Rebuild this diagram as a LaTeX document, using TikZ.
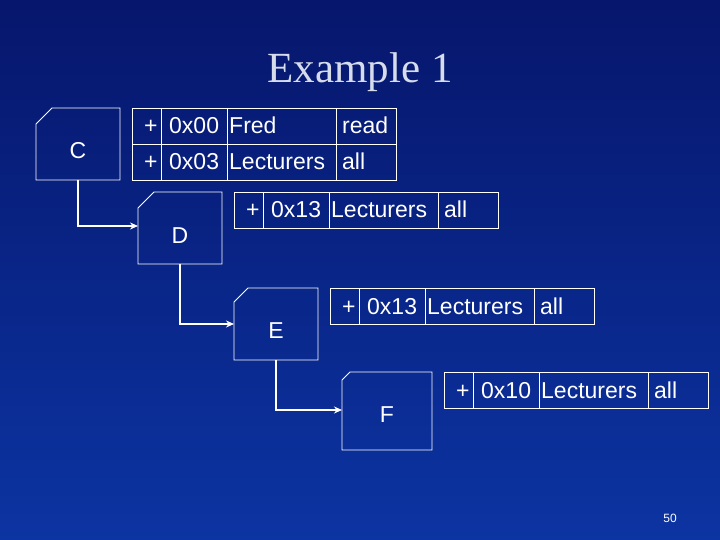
\documentclass[tikz,border=0pt]{standalone}
\usepackage{fontspec}
\setsansfont{Liberation Sans}
\setmainfont{Liberation Serif}
\usetikzlibrary{arrows.meta}
\definecolor{bgtop}{RGB}{6,22,108}
\definecolor{bgbot}{RGB}{12,52,162}
\definecolor{titlec}{RGB}{215,220,235}
\tikzset{
  ln/.style={draw=white,line width=0.9pt},
  cell/.style={anchor=base west,text=white,font=\sffamily\fontsize{23}{23}\selectfont,inner sep=0pt},
  lbl/.style={text=white,font=\sffamily\fontsize{23}{23}\selectfont},
  conn/.style={draw=white,line width=1.6pt,-{Stealth[length=8pt,width=7pt]}}
}
\begin{document}
\begin{tikzpicture}[x=1pt,y=-1pt]
\shade[top color=bgtop,bottom color=bgbot] (0,0) rectangle (720,540);
\useasboundingbox (0,0) rectangle (720,540);
\node[text=titlec,font=\rmfamily\fontsize{43}{43}\selectfont] (title) at (360,72) {Example 1};
% boxes
\draw[ln] (36,124) -- (52,108) -- (120,108) -- (120,180) -- (36,180) -- cycle;
\node[lbl] (C) at (78,151) {C};
\coordinate (Cb) at (78,180);
\draw[ln] (138,208) -- (154,192) -- (222,192) -- (222,264) -- (138,264) -- cycle;
\node[lbl] (D) at (180,236) {D};
\coordinate (Db) at (180,264); \coordinate (Dl) at (138,226);
\draw[ln] (234,302) -- (248,288) -- (318,288) -- (318,360) -- (234,360) -- cycle;
\node[lbl] (E) at (276,331) {E};
\coordinate (Eb) at (276,360); \coordinate (El) at (234,324);
\draw[ln] (342,380) -- (350,372) -- (432,372) -- (432,450) -- (342,450) -- cycle;
\node[lbl] (F) at (387,415) {F};
\coordinate (Fl) at (342,410);
% connectors
\draw[conn] (Cb) |- (Dl);
\draw[conn] (Db) |- (El);
\draw[conn] (Eb) |- (Fl);
% table C
\draw[ln] (132,108) rectangle (396,180);
\draw[ln] (132,144) -- (396,144);
\foreach \x in {161,227,336} \draw[ln] (\x,108) -- (\x,180);
\foreach \y/\a/\b/\c in {134/0x00/Fred/read,170/0x03/Lecturers/all}{
  \node[cell] at (144,\y) {+};
  \node[cell] at (169,\y) {\a};
  \node[cell] at (229,\y) {\b};
  \node[cell] at (342,\y) {\c};
}
% table rows D,E,F
\foreach \x/\y/\h in {234/192/0x13,330/288/0x13,444/372/0x10}{
  \draw[ln] (\x,\y) rectangle ({\x+264},{\y+36});
  \foreach \d in {29,95,204} \draw[ln] ({\x+\d},\y) -- ({\x+\d},{\y+36});
  \node[cell] at ({\x+12},{\y+26}) {+};
  \node[cell] at ({\x+37},{\y+26}) {\h};
  \node[cell] at ({\x+97},{\y+26}) {Lecturers};
  \node[cell] at ({\x+210},{\y+26}) {all};
}
\node[text=white,font=\sffamily\fontsize{12}{12}\selectfont] (pg) at (670,518) {50};
\end{tikzpicture}
\end{document}
